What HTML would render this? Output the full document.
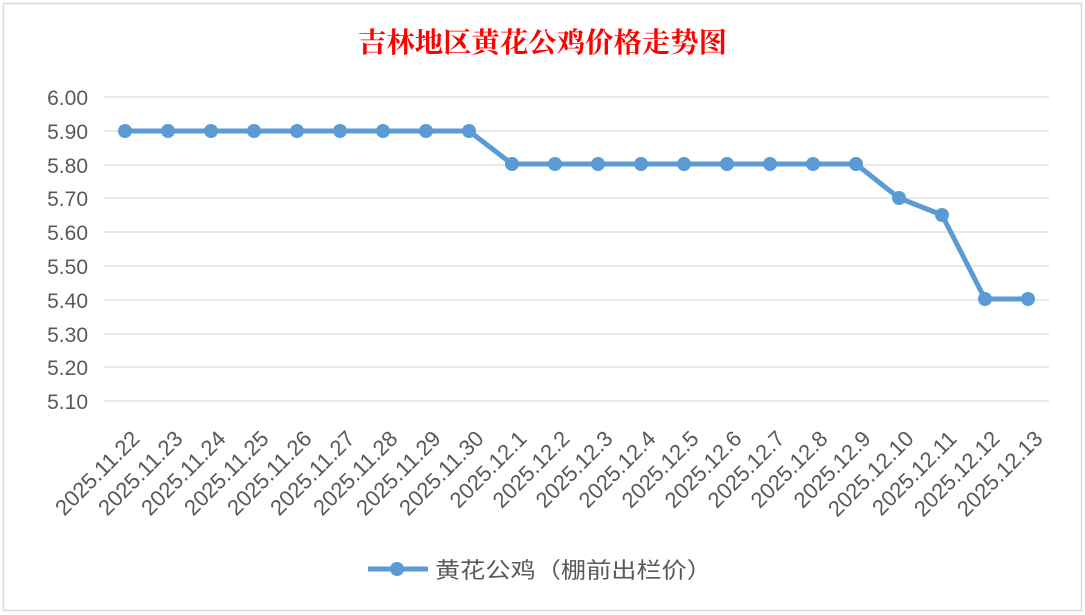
<!DOCTYPE html>
<html><head><meta charset="utf-8"><style>
html,body{margin:0;padding:0;background:#fff;}
svg{display:block;}
</style></head><body>
<svg width="1085" height="615" xmlns="http://www.w3.org/2000/svg" font-family="Liberation Sans, Noto Sans CJK SC, sans-serif">
<rect x="3.5" y="3.5" width="1078" height="607" fill="#fff" stroke="#d9d9d9" stroke-width="1.5"/>
<text x="358" y="52" textLength="369" lengthAdjust="spacingAndGlyphs" font-size="28" font-weight="bold" fill="#ff0000" font-family="Noto Serif CJK SC, serif">吉林地区黄花公鸡价格走势图</text>
<g stroke="#d9d9d9" stroke-width="1.3">
<line x1="104" x2="1049" y1="97" y2="97"/><line x1="104" x2="1049" y1="131" y2="131"/><line x1="104" x2="1049" y1="165" y2="165"/><line x1="104" x2="1049" y1="198" y2="198"/><line x1="104" x2="1049" y1="232" y2="232"/><line x1="104" x2="1049" y1="266" y2="266"/><line x1="104" x2="1049" y1="300" y2="300"/><line x1="104" x2="1049" y1="334" y2="334"/><line x1="104" x2="1049" y1="367" y2="367"/><line x1="104" x2="1049" y1="401" y2="401"/>
</g>
<g font-size="21" fill="#595959" text-anchor="end">
<text x="88" y="105">6.00</text><text x="88" y="139">5.90</text><text x="88" y="173">5.80</text><text x="88" y="206">5.70</text><text x="88" y="240">5.60</text><text x="88" y="274">5.50</text><text x="88" y="308">5.40</text><text x="88" y="342">5.30</text><text x="88" y="375">5.20</text><text x="88" y="409">5.10</text>
</g>
<g font-size="22" fill="#595959" text-anchor="end">
<text transform="translate(141,440) rotate(-45)">2025.11.22</text>
<text transform="translate(184,440) rotate(-45)">2025.11.23</text>
<text transform="translate(227,440) rotate(-45)">2025.11.24</text>
<text transform="translate(270,440) rotate(-45)">2025.11.25</text>
<text transform="translate(313,440) rotate(-45)">2025.11.26</text>
<text transform="translate(356,440) rotate(-45)">2025.11.27</text>
<text transform="translate(399,440) rotate(-45)">2025.11.28</text>
<text transform="translate(442,440) rotate(-45)">2025.11.29</text>
<text transform="translate(485,440) rotate(-45)">2025.11.30</text>
<text transform="translate(528,440) rotate(-45)">2025.12.1</text>
<text transform="translate(571,440) rotate(-45)">2025.12.2</text>
<text transform="translate(614,440) rotate(-45)">2025.12.3</text>
<text transform="translate(657,440) rotate(-45)">2025.12.4</text>
<text transform="translate(700,440) rotate(-45)">2025.12.5</text>
<text transform="translate(743,440) rotate(-45)">2025.12.6</text>
<text transform="translate(786,440) rotate(-45)">2025.12.7</text>
<text transform="translate(829,440) rotate(-45)">2025.12.8</text>
<text transform="translate(872,440) rotate(-45)">2025.12.9</text>
<text transform="translate(915,440) rotate(-45)">2025.12.10</text>
<text transform="translate(958,440) rotate(-45)">2025.12.11</text>
<text transform="translate(1001,440) rotate(-45)">2025.12.12</text>
<text transform="translate(1044,440) rotate(-45)">2025.12.13</text>
</g>
<polyline fill="none" stroke="#5b9bd5" stroke-width="5" stroke-linejoin="round" points="125,131 168,131 211,131 254,131 297,131 340,131 383,131 426,131 469,131 512,164 555,164 598,164 641,164 684,164 727,164 770,164 813,164 856,164 899,198 942,215 985,299 1028,299"/>
<g fill="#5b9bd5">
<circle cx="125" cy="131" r="7"/><circle cx="168" cy="131" r="7"/><circle cx="211" cy="131" r="7"/><circle cx="254" cy="131" r="7"/><circle cx="297" cy="131" r="7"/><circle cx="340" cy="131" r="7"/><circle cx="383" cy="131" r="7"/><circle cx="426" cy="131" r="7"/><circle cx="469" cy="131" r="7"/><circle cx="512" cy="164" r="7"/><circle cx="555" cy="164" r="7"/><circle cx="598" cy="164" r="7"/><circle cx="641" cy="164" r="7"/><circle cx="684" cy="164" r="7"/><circle cx="727" cy="164" r="7"/><circle cx="770" cy="164" r="7"/><circle cx="813" cy="164" r="7"/><circle cx="856" cy="164" r="7"/><circle cx="899" cy="198" r="7"/><circle cx="942" cy="215" r="7"/><circle cx="985" cy="299" r="7"/><circle cx="1028" cy="299" r="7"/>
</g>
<line x1="368" x2="428" y1="569" y2="569" stroke="#5b9bd5" stroke-width="5"/>
<circle cx="397" cy="569" r="7" fill="#5b9bd5"/>
<text x="435" y="578" font-size="22" textLength="277" lengthAdjust="spacingAndGlyphs" fill="#595959">黄花公鸡（棚前出栏价）</text>
</svg>
</body></html>
